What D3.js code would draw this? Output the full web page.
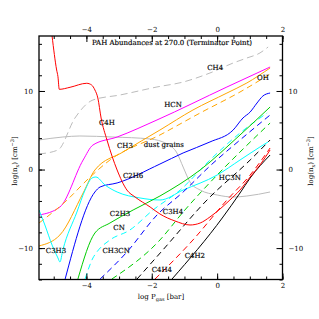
<!DOCTYPE html>
<html><head><meta charset="utf-8">
<script src="https://cdn.jsdelivr.net/npm/d3@7"></script>
<style>body{margin:0;background:#fff}text{font-family:"DejaVu Serif",serif;fill:#000}</style>
</head><body>
<svg id="c" width="319" height="319"></svg>
<script>
// ---- data (log P_gas [bar], log n [cm^-3]) ----
const xMajorTicks = [-4, -2, 0, 2];
const yMajorTicks = [-10, 0, 10];
const titleText = "PAH Abundances at 270.0 (Terminator Point)";

const C4H = [[-5.05,17.0],[-4.91,12.67],[-4.87,11.82],[-4.83,10.21],[-4.50,10.47],[-3.99,10.98],[-3.84,10.76],[-3.74,10.13],[-3.65,9.11],[-3.55,6.56],[-3.37,3.76],[-3.06,-0.06],[-2.76,-2.61],[-2.51,-3.50],[-2.05,-4.77],[-1.75,-5.66],[-1.29,-6.55],[-0.83,-7.06],[-0.52,-6.81],[-0.22,-6.04],[0.09,-5.02],[0.39,-3.88],[0.70,-2.61],[1.01,-0.95],[1.31,0.57],[1.62,2.49]];
const CH4 = [[-5.45,1.98],[-4.87,2.49],[-4.35,6.56],[-3.80,8.85],[-2.97,9.49],[-1.84,10.51],[-1.04,11.14],[-0.22,12.29],[0.49,13.56],[0.91,14.20],[1.31,14.84],[1.56,15.60]];
const dust = [[-5.45,3.76],[-4.72,4.14],[-4.20,4.27],[-3.19,4.14],[-2.05,3.89],[-1.53,3.25],[-1.23,2.11],[-1.04,0.32],[-0.83,-1.59],[-0.52,-2.61],[0.00,-3.24],[0.49,-3.50],[0.91,-3.37],[1.62,-2.86]];
const HCN = [[-5.45,-5.79],[-4.81,-4.77],[-4.10,1.21],[-3.80,3.12],[-3.06,4.14],[-1.84,6.31],[0.30,10.51],[1.62,13.05]];
const CH3 = [[-5.45,-9.73],[-4.81,-8.33],[-4.10,-2.99],[-3.74,-0.06],[-2.88,2.23],[-1.75,5.03],[-0.74,7.58],[0.30,9.74],[0.91,11.02],[1.62,12.93]];
const OH = [[-5.45,-6.81],[-4.59,-3.88],[-3.98,-1.33],[-3.28,1.21],[-1.75,4.40],[-0.52,7.20],[0.70,9.87],[1.62,12.16]];
const C2H6 = [[-4.65,-13.94],[-3.74,-2.86],[-3.58,-2.22],[-3.06,-1.71],[-1.75,0.70],[-1.04,2.11],[-0.22,3.51],[0.49,5.03],[0.79,6.56],[1.01,7.32],[1.22,8.47],[1.40,9.36],[1.62,9.74]];
const C3H3 = [[-5.45,-5.15],[-5.27,-7.06],[-5.05,-9.61],[-4.87,-11.26],[-4.81,-11.77],[-4.72,-10.24],[-4.29,-5.41],[-4.04,-2.61],[-3.83,-1.08],[-3.71,-0.95],[-3.43,-1.97],[-3.06,-2.86],[-2.36,-3.62],[-1.75,-3.88],[-1.04,-2.61],[0.00,-0.70],[0.70,1.21],[1.31,2.87],[1.56,3.51]];
const CH3CN = [[-4.04,-13.94],[-3.80,-11.26],[-3.68,-10.50],[-3.28,-8.97],[-2.67,-7.70],[-1.96,-5.15],[-1.13,-2.61],[-0.22,1.21],[0.70,4.65],[1.53,7.20]];
const C2H3 = [[-4.26,-13.94],[-3.74,-8.08],[-3.28,-6.81],[-2.57,-5.15],[-1.75,-3.37],[-0.52,-0.06],[0.70,4.40],[1.62,7.96]];
const CN = [[-3.58,-13.94],[-2.76,-10.50],[-1.84,-5.79],[-1.04,-2.86],[-0.22,0.45],[0.70,3.76],[1.62,6.94]];
const C3H4 = [[-3.22,-13.94],[-1.75,-8.97],[-1.04,-5.41],[0.00,-0.70],[0.70,2.23],[1.62,5.92]];
const HC3N = [[-2.45,-13.94],[-1.66,-10.24],[-0.31,-3.88],[1.01,1.21],[1.62,3.76]];
const C4H4 = [[-1.90,-13.94],[-0.74,-8.97],[0.30,-3.88],[1.01,-0.70],[1.62,2.74]];
const C4H2 = [[-1.38,-13.94],[0.18,-6.04],[0.70,-2.99],[1.01,-1.08],[1.62,1.85]];

const seriesList = [
  {d: CH4, c: "#bbbbbb", dash: "7,4"},
  {d: dust, c: "#bbbbbb", dash: null},
  {d: HCN, c: "#ff00ff", dash: null},
  {d: CH3, c: "#ffa500", dash: null},
  {d: OH, c: "#ffa500", dash: "6,4"},
  {d: C2H6, c: "#0000ff", dash: null},
  {d: C3H3, c: "#00ffff", dash: null},
  {d: CH3CN, c: "#00ffff", dash: "6,4"},
  {d: C2H3, c: "#00cc00", dash: null},
  {d: CN, c: "#0000ff", dash: "6,4"},
  {d: C3H4, c: "#00cc00", dash: "6,4"},
  {d: HC3N, c: "#000000", dash: "6,4"},
  {d: C4H4, c: "#ff0000", dash: "6,4"},
  {d: C4H2, c: "#000000", dash: null},
  {d: C4H, c: "#ff0000", dash: null}
];

const labelNames = ["CH4","OH","HCN","C4H","CH3","dust grains","C2H6","C2H3","CN","C3H3","CH3CN","C3H4","C4H2","C4H4","HC3N"];
const labelX = [-0.06,1.40,-1.35,-3.37,-2.82,-1.63,-2.57,-2.97,-3.00,-4.93,-3.09,-1.35,-0.68,-1.69,0.39];
const labelY = [12.93,11.65,8.22,5.92,3.00,3.12,-0.82,-5.66,-7.44,-10.37,-10.37,-5.41,-11.01,-12.79,-1.08];

// ---- layout ----
const L = 39, R = 282.5, T = 36, B = 279.5;
const FS = 7;
const svg = d3.select("#c");
const x = d3.scaleLinear().domain([-5.45, 2]).range([L, R]);
const y = d3.scaleLinear().domain([-14, 17]).range([B, T]);

svg.append("defs").append("clipPath").attr("id","clip")
  .append("rect").attr("x",L).attr("y",T).attr("width",R-L).attr("height",B-T);

const line = d3.line().x(d=>x(d[0])).y(d=>y(d[1])).curve(d3.curveMonotoneX);
const g = svg.append("g").attr("clip-path","url(#clip)");
seriesList.forEach(s=>{
  g.append("path").attr("d", line(s.d)).attr("fill","none")
    .attr("stroke", s.c).attr("stroke-width", 1)
    .attr("stroke-dasharray", s.dash);
});

// labels
labelNames.forEach((n,i)=>{
  svg.append("text").attr("x", x(labelX[i])).attr("y", y(labelY[i])).attr("dy","0.35em")
    .attr("text-anchor","middle").attr("font-size",FS).attr("stroke","#000").attr("stroke-width",0.15).text(n);
});

// title
svg.append("text").attr("x",172).attr("y",T+7).attr("dy","0.35em").attr("text-anchor","middle")
  .attr("font-size",FS).attr("stroke","#000").attr("stroke-width",0.15).text(titleText);

// axes with inward ticks
const fmt = d=>d<0?"\u2212"+(-d):d;
const xMinor = d3.range(-5, 2.01, 0.5);
const yMinor = d3.range(-14, 17.01, 2);
svg.append("g").attr("transform",`translate(0,${B})`)
  .call(d3.axisBottom(x).tickValues(xMinor).tickSize(-3).tickFormat(""));
svg.append("g").attr("transform",`translate(0,${B})`)
  .call(d3.axisBottom(x).tickValues(xMajorTicks).tickSize(-6).tickPadding(4).tickFormat(fmt));
svg.append("g").attr("transform",`translate(0,${T})`)
  .call(d3.axisTop(x).tickValues(xMinor).tickSize(-3).tickFormat(""));
svg.append("g").attr("transform",`translate(0,${T})`)
  .call(d3.axisTop(x).tickValues(xMajorTicks).tickSize(-6).tickPadding(4).tickFormat(fmt));
svg.append("g").attr("transform",`translate(${L},0)`)
  .call(d3.axisLeft(y).tickValues(yMinor).tickSize(-3).tickFormat(""));
svg.append("g").attr("transform",`translate(${L},0)`)
  .call(d3.axisLeft(y).tickValues(yMajorTicks).tickSize(-6).tickPadding(6).tickFormat(fmt));
svg.append("g").attr("transform",`translate(${R},0)`)
  .call(d3.axisRight(y).tickValues(yMinor).tickSize(-3).tickFormat(""));
svg.append("g").attr("transform",`translate(${R},0)`)
  .call(d3.axisRight(y).tickValues(yMajorTicks).tickSize(-6).tickPadding(6).tickFormat(fmt));
svg.selectAll(".domain").attr("stroke","none");
svg.selectAll(".tick line").attr("stroke","#000").attr("stroke-width",1);
svg.selectAll(".tick text").attr("font-size",FS).attr("font-family","DejaVu Serif, serif").attr("fill","#000");
svg.append("rect").attr("x",L).attr("y",T).attr("width",R-L).attr("height",B-T)
  .attr("fill","none").attr("stroke","#000").attr("stroke-width",1.3);

// axis titles
const xt = svg.append("text").attr("x",161).attr("y",298.5).attr("text-anchor","middle").attr("font-size",FS);
xt.append("tspan").text("log  P");
xt.append("tspan").attr("font-size",5).attr("dy",2).text("gas");
xt.append("tspan").attr("dy",-2).text(" [bar]");

function yTitle(px){
  const t = svg.append("text").attr("transform",`translate(${px},161) rotate(-90)`).attr("text-anchor","middle").attr("font-size",FS);
  t.append("tspan").text("log(n");
  t.append("tspan").attr("font-size",5).attr("dy",2).text("x");
  t.append("tspan").attr("dy",-2).text(") [cm");
  t.append("tspan").attr("font-size",5).attr("dy",-3).text("\u22123");
  t.append("tspan").attr("dy",3).text("]");
}
yTitle(17);
yTitle(313);
</script>
</body></html>
